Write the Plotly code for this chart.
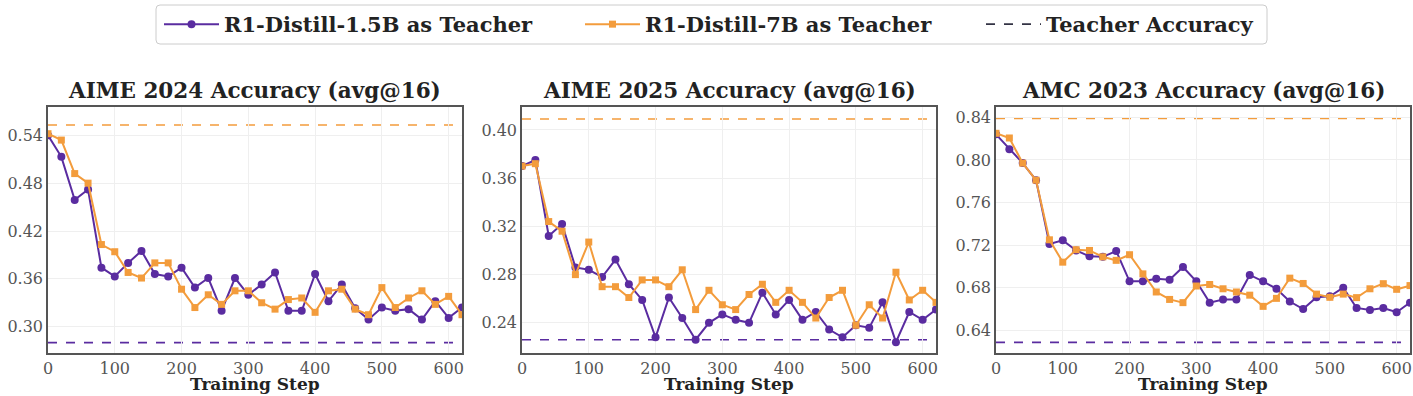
import plotly.graph_objects as go

steps = list(range(0, 621, 20))

titles = ["AIME 2024 Accuracy (avg@16)", "AIME 2025 Accuracy (avg@16)", "AMC 2023 Accuracy (avg@16)"]
series_names = ["R1-Distill-1.5B as Teacher", "R1-Distill-7B as Teacher", "Teacher Accuracy"]

aime24_15b = [0.540, 0.513, 0.459, 0.472, 0.374, 0.363, 0.380, 0.395, 0.366, 0.363, 0.374, 0.349,
              0.361, 0.320, 0.361, 0.340, 0.353, 0.368, 0.320, 0.320, 0.366, 0.332, 0.353, 0.323,
              0.309, 0.324, 0.320, 0.322, 0.309, 0.332, 0.311, 0.324]
aime24_7b = [0.542, 0.534, 0.492, 0.480, 0.403, 0.394, 0.368, 0.361, 0.380, 0.380, 0.347, 0.324,
             0.340, 0.328, 0.345, 0.345, 0.330, 0.322, 0.334, 0.336, 0.318, 0.345, 0.347, 0.322,
             0.315, 0.349, 0.324, 0.336, 0.345, 0.328, 0.338, 0.315]

aime25_15b = [0.370, 0.375, 0.312, 0.322, 0.286, 0.284, 0.278, 0.2925, 0.272, 0.259, 0.228, 0.261,
              0.244, 0.226, 0.240, 0.247, 0.2425, 0.240, 0.265, 0.247, 0.259, 0.2425, 0.249, 0.2345,
              0.228, 0.238, 0.236, 0.257, 0.224, 0.249, 0.2425, 0.251]
aime25_7b = [0.370, 0.372, 0.324, 0.316, 0.280, 0.307, 0.270, 0.270, 0.261, 0.2756, 0.2756, 0.270,
             0.284, 0.251, 0.267, 0.255, 0.251, 0.2635, 0.272, 0.257, 0.267, 0.257, 0.244, 0.261,
             0.267, 0.238, 0.255, 0.244, 0.282, 0.259, 0.267, 0.257]

amc23_15b = [0.824, 0.810, 0.797, 0.781, 0.721, 0.7245, 0.715, 0.7095, 0.709, 0.7145, 0.686, 0.686,
             0.6885, 0.6875, 0.6995, 0.686, 0.666, 0.669, 0.669, 0.692, 0.686, 0.679, 0.667, 0.660,
             0.671, 0.672, 0.680, 0.661, 0.659, 0.661, 0.657, 0.666]
amc23_7b = [0.825, 0.8206, 0.797, 0.781, 0.725, 0.704, 0.7157, 0.715, 0.709, 0.7057, 0.711, 0.693,
            0.676, 0.669, 0.666, 0.6816, 0.683, 0.679, 0.676, 0.673, 0.6625, 0.670, 0.689, 0.684,
            0.674, 0.671, 0.674, 0.6707, 0.679, 0.6838, 0.6785, 0.682]

teacher_15b = [0.280, 0.226, 0.6287]
teacher_7b = [0.553, 0.409, 0.839]

y_ranges = [[0.267, 0.5755], [0.215, 0.419], [0.6187, 0.8497]]
y_ticks = [[0.30, 0.36, 0.42, 0.48, 0.54], [0.24, 0.28, 0.32, 0.36, 0.40],
           [0.64, 0.68, 0.72, 0.76, 0.80, 0.84]]
x_ticks = [0, 100, 200, 300, 400, 500, 600]

data_15b = [aime24_15b, aime25_15b, amc23_15b]
data_7b = [aime24_7b, aime25_7b, amc23_7b]

PURPLE = "#5a2ca0"
ORANGE = "#f39c3c"
FONT = "DejaVu Serif"

W, H = 1413, 396
x_px = [(48, 462), (522, 936), (996, 1410)]
y_top, y_bot = 107, 353
legend_text_px = [226, 647, 1048]
ITEMW = 55
TEXT_OFF = 52 + (ITEMW - 40)

fig = go.Figure()
annotations = []
shapes = []

for i in range(3):
    xa = "x" if i == 0 else f"x{i+1}"
    ya = "y" if i == 0 else f"y{i+1}"
    fig.add_trace(go.Scatter(x=steps, y=data_15b[i], mode="lines+markers", name=f"<b>{series_names[0]}</b>",
                             line=dict(color=PURPLE, width=2),
                             marker=dict(symbol="circle", size=8, color=PURPLE),
                             xaxis=xa, yaxis=ya, showlegend=(i == 0), legend="legend"))
    fig.add_trace(go.Scatter(x=steps, y=data_7b[i], mode="lines+markers", name=f"<b>{series_names[1]}</b>",
                             line=dict(color=ORANGE, width=2),
                             marker=dict(symbol="square", size=7, color=ORANGE),
                             xaxis=xa, yaxis=ya, showlegend=(i == 0), legend="legend2"))
    for val, col in [(teacher_15b[i], PURPLE), (teacher_7b[i], ORANGE)]:
        shapes.append(dict(type="line", xref=f"{xa} domain", yref=ya, x0=0, x1=1, y0=val, y1=val,
                           line=dict(color=col, width=1.6, dash="dash"), layer="below"))
    d = dict(domain=[x_px[i][0] / W, x_px[i][1] / W], range=[0, 620], tickvals=x_ticks,
             showgrid=True, gridcolor="#efefef", gridwidth=1, zeroline=False,
             showline=True, linecolor="#555555", linewidth=1.5, mirror=True,
             ticks="", tickfont=dict(family=FONT, size=16, color="#555555"),
             anchor=ya, automargin=False)
    fig.layout[("xaxis" if i == 0 else f"xaxis{i+1}")] = d
    yd = dict(domain=[1 - y_bot / H, 1 - y_top / H], range=y_ranges[i], tickvals=y_ticks[i],
              tickformat=".2f", showgrid=True, gridcolor="#efefef", gridwidth=1, zeroline=False,
              showline=True, linecolor="#555555", linewidth=1.5, mirror=True,
              ticks="", tickfont=dict(family=FONT, size=16, color="#555555"),
              anchor=xa, automargin=False)
    fig.layout[("yaxis" if i == 0 else f"yaxis{i+1}")] = yd
    cx = (x_px[i][0] + x_px[i][1]) / 2 / W
    annotations.append(dict(text=f"<b>{titles[i]}</b>", x=cx, y=1 - 90 / H, xref="paper", yref="paper",
                            xanchor="center", yanchor="middle", showarrow=False,
                            font=dict(family=FONT, size=21.5, color="#222222")))
    annotations.append(dict(text="<b>Training Step</b>", x=cx, y=0, xref="paper", yref="paper",
                            xanchor="center", yanchor="bottom", showarrow=False,
                            font=dict(family=FONT, size=17, color="#222222")))

fig.add_trace(go.Scatter(x=[None], y=[None], mode="lines", name=f"<b>{series_names[2]}</b>",
                         line=dict(color="#333344", width=1.6, dash="dash"), legend="legend3"))

# legend frame with rounded corners (paper coordinates)
bx0, bx1, by0, by1, r = 156 / W, 1267 / W, 1 - 44 / H, 1 - 5 / H, 4
rx, ry = r / W, r / H
frame = (f"M {bx0 + rx},{by1} L {bx1 - rx},{by1} Q {bx1},{by1} {bx1},{by1 - ry} "
         f"L {bx1},{by0 + ry} Q {bx1},{by0} {bx1 - rx},{by0} L {bx0 + rx},{by0} "
         f"Q {bx0},{by0} {bx0},{by0 + ry} L {bx0},{by1 - ry} Q {bx0},{by1} {bx0 + rx},{by1} Z")
shapes.append(dict(type="path", xref="paper", yref="paper", path=frame,
                   line=dict(color="#cccccc", width=1), fillcolor="rgba(0,0,0,0)"))


def leg(px):
    return dict(orientation="h", x=(px - TEXT_OFF) / W, y=1 - 24.5 / H, xanchor="left", yanchor="middle",
                borderwidth=0, bgcolor="rgba(0,0,0,0)",
                font=dict(family=FONT, size=21, color="#222222"), itemwidth=ITEMW)


fig.update_layout(
    width=W, height=H, margin=dict(l=0, r=0, t=0, b=0),
    paper_bgcolor="white", plot_bgcolor="white",
    annotations=annotations, shapes=shapes,
    legend=leg(legend_text_px[0]), legend2=leg(legend_text_px[1]), legend3=leg(legend_text_px[2]),
    font=dict(family=FONT),
    showlegend=True,
)

fig.write_html("out.html", config={"displayModeBar": False},
               post_script="document.body.style.margin='0';document.body.style.overflow='hidden';")
